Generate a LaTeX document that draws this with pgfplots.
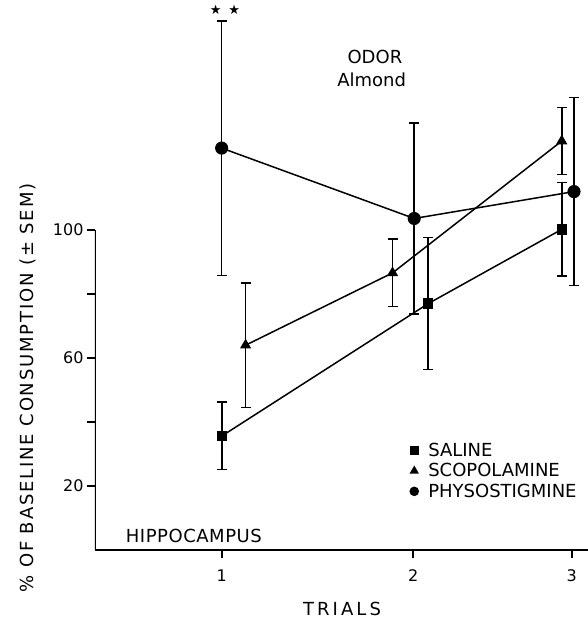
\documentclass[border=0pt]{standalone}
\usepackage{pgfplots}
\pgfplotsset{compat=1.18}
\usepackage{fontspec}
\setmainfont{DejaVu Sans}
\newcommand{\lbl}{\fontsize{18}{21}\selectfont}
\newcommand{\tck}{\fontsize{16}{19}\selectfont}

\begin{document}
\begin{tikzpicture}
\path[use as bounding box] (-95pt,-69pt) rectangle (493pt,550pt);
\begin{axis}[
  scale only axis, width=493pt, height=550pt,
  xmin=0.339, xmax=2.912, ymin=0, ymax=171.875,
  axis x line*=bottom, axis y line*=left,
  axis line style={-, line width=2pt},
  y axis line style={draw=none},
  tick align=outside, major tick length=8pt,
  tick style={line width=2pt, black},
  xtick={1,2,2.827}, xticklabels={1,2,3},
  ytick={20,40,60,80,100}, yticklabels={20,,60,,100},
  tick label style={font=\tck},
  xticklabel style={yshift=-8pt},
  /pgf/number format/assume math mode=true,
  xlabel={\addfontfeatures{LetterSpace=17}TRIALS},
  xlabel style={at={(axis description cs:0.501,-0.107)}, anchor=center,
    inner sep=0pt, font=\lbl},
  ylabel={\addfontfeatures{LetterSpace=10}\% OF BASELINE CONSUMPTION (± SEM)},
  ylabel style={at={(axis description cs:-0.1359,0.2945)}, anchor=center,
    inner sep=0pt, font=\lbl},
  error bars/y dir=both, error bars/y explicit,
  error bars/error bar style={line width=1.6pt, black},
  error bars/error mark options={rotate=90, line width=1.6pt, mark size=5pt, black},
  legend style={draw=none, fill=none, at={(axis description cs:0.633,0.2)},
    anchor=north west, font=\lbl, nodes={inner sep=1pt}, row sep=3.5pt,
    /tikz/every odd column/.append style={column sep=9pt}},
  legend image code/.code={\draw[#1, mark size=4pt] plot coordinates {(0pt,0pt)};},
  legend cell align=left,
]
% saline
\addplot[black, line width=1.5pt, mark=square*, mark size=4.5pt]
  table[x=x, y=y, y error=e] {
x     y     e
1.003 35.7  10.5
2.078 77.0  20.6
2.775 100.2 14.6
};
% scopolamine
\addplot[black, line width=1.5pt, mark=triangle*, mark size=5pt]
  table[x=x, y=y, y error=e] {
x     y     e
1.125 64.0  19.5
1.892 86.6  10.5
2.775 127.8 10.5
};
% physostigmine
\addplot[black, line width=1.5pt, mark=*, mark size=5.8pt]
  table[x=x, y=y, y error=e] {
x     y     e
1.000 125.6 39.8
2.005 103.6 29.8
2.839 112.0 29.4
};
\legend{SALINE, SCOPOLAMINE, PHYSOSTIGMINE}
\draw[line width=2pt] (axis cs:0.339,0) -- (axis cs:0.339,100);
\node[font=\lbl] at (axis cs:1.800,154.1) {ODOR};
\node[font=\lbl] at (axis cs:1.783,146.9) {Almond};
\node[font=\lbl] at (axis cs:0.855,4.4) {\addfontfeatures{LetterSpace=3}HIPPOCAMPUS};
\node[font=\fontsize{13}{15}\selectfont] at (axis cs:1.017,168.75) {★\hspace{7pt}★};
\end{axis}
\end{tikzpicture}
\end{document}
